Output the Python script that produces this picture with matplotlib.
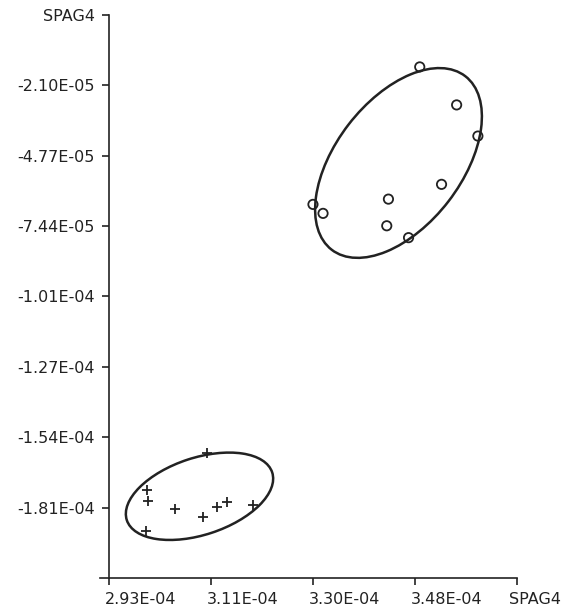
import numpy as np
import matplotlib
matplotlib.use("Agg")
import matplotlib.pyplot as plt
import matplotlib.transforms as mtransforms
from matplotlib.patches import Ellipse

# group 1 (circles), x in 1e-4, y in 1e-5
circ_x = [3.486, 3.552, 3.590, 3.525, 3.430, 3.427, 3.466, 3.295, 3.313]
circ_y = [-1.40, -2.84, -4.02, -5.85, -6.41, -7.42, -7.87, -6.61, -6.95]

# group 2 (crosses)
cross_x = [3.106, 2.998, 2.999, 3.048, 3.098, 3.123, 3.141, 3.188, 2.996]
cross_y = [-16.02, -17.43, -17.84, -18.16, -18.47, -18.09, -17.90, -18.00, -18.99]

# ellipses: centre (data), width/height (inches), angle (deg)
ell_center = [(3.448, -5.04), (3.092, -17.67)]
ell_size = [(2.19, 1.26), (1.53, 0.77)]
ell_angle = [52.4, 18.2]

xticks = [2.93, 3.1125, 3.295, 3.4775, 3.66]
xlabels = ["2.93E-04", "3.11E-04", "3.30E-04", "3.48E-04", "SPAG4"]
yticks = [-18.1, -15.433, -12.767, -10.1, -7.433, -4.767, -2.1, 0.567]
ylabels = ["-1.81E-04", "-1.54E-04", "-1.27E-04", "-1.01E-04",
           "-7.44E-05", "-4.77E-05", "-2.10E-05", "SPAG4"]

plt.rcParams['font.family'] = ['DejaVu Sans']

fig = plt.figure(figsize=(5.64, 6.13), dpi=100)
ax = fig.add_axes([100 / 564, 35 / 613, 417 / 564, 563 / 613])

ax.set_xlim(2.914e-4, 3.66e-4)
ax.set_ylim(-20.767e-5, 0.567e-5)

ax.scatter(np.array(circ_x) * 1e-4, np.array(circ_y) * 1e-5, s=45,
           facecolors='none', edgecolors='#222222', linewidths=1.3, zorder=3)
ax.scatter(np.array(cross_x) * 1e-4, np.array(cross_y) * 1e-5, s=55,
           marker='+', c='#222222', linewidths=1.3, zorder=3)

for (cx, cy), (w, h), ang in zip(ell_center, ell_size, ell_angle):
    trans = fig.dpi_scale_trans + mtransforms.ScaledTranslation(cx * 1e-4, cy * 1e-5, ax.transData)
    ax.add_patch(Ellipse((0, 0), w, h, angle=ang, transform=trans,
                         fill=False, edgecolor='#222222', linewidth=1.8))

for s in ['top', 'right']:
    ax.spines[s].set_visible(False)
ax.spines['left'].set_position(('data', 2.93e-4))
for s in ['left', 'bottom']:
    ax.spines[s].set_linewidth(1.2)
    ax.spines[s].set_color('#222222')

ax.set_xticks(np.array(xticks) * 1e-4)
ax.set_xticklabels(xlabels, ha='left')
ax.set_yticks(np.array(yticks) * 1e-5)
ax.set_yticklabels(ylabels)
ax.tick_params(axis='both', direction='out', length=5, width=1.2,
               color='#222222', labelsize=11.5, labelcolor='#222222', pad=5)

xlabs = ax.get_xticklabels()
for i, lab in enumerate(xlabs):
    dx = -8 if i == len(xlabs) - 1 else -4
    offset = mtransforms.ScaledTranslation(dx / 100, 0, fig.dpi_scale_trans)
    lab.set_transform(lab.get_transform() + offset)

fig.savefig("out.png", dpi=100, facecolor='white')
